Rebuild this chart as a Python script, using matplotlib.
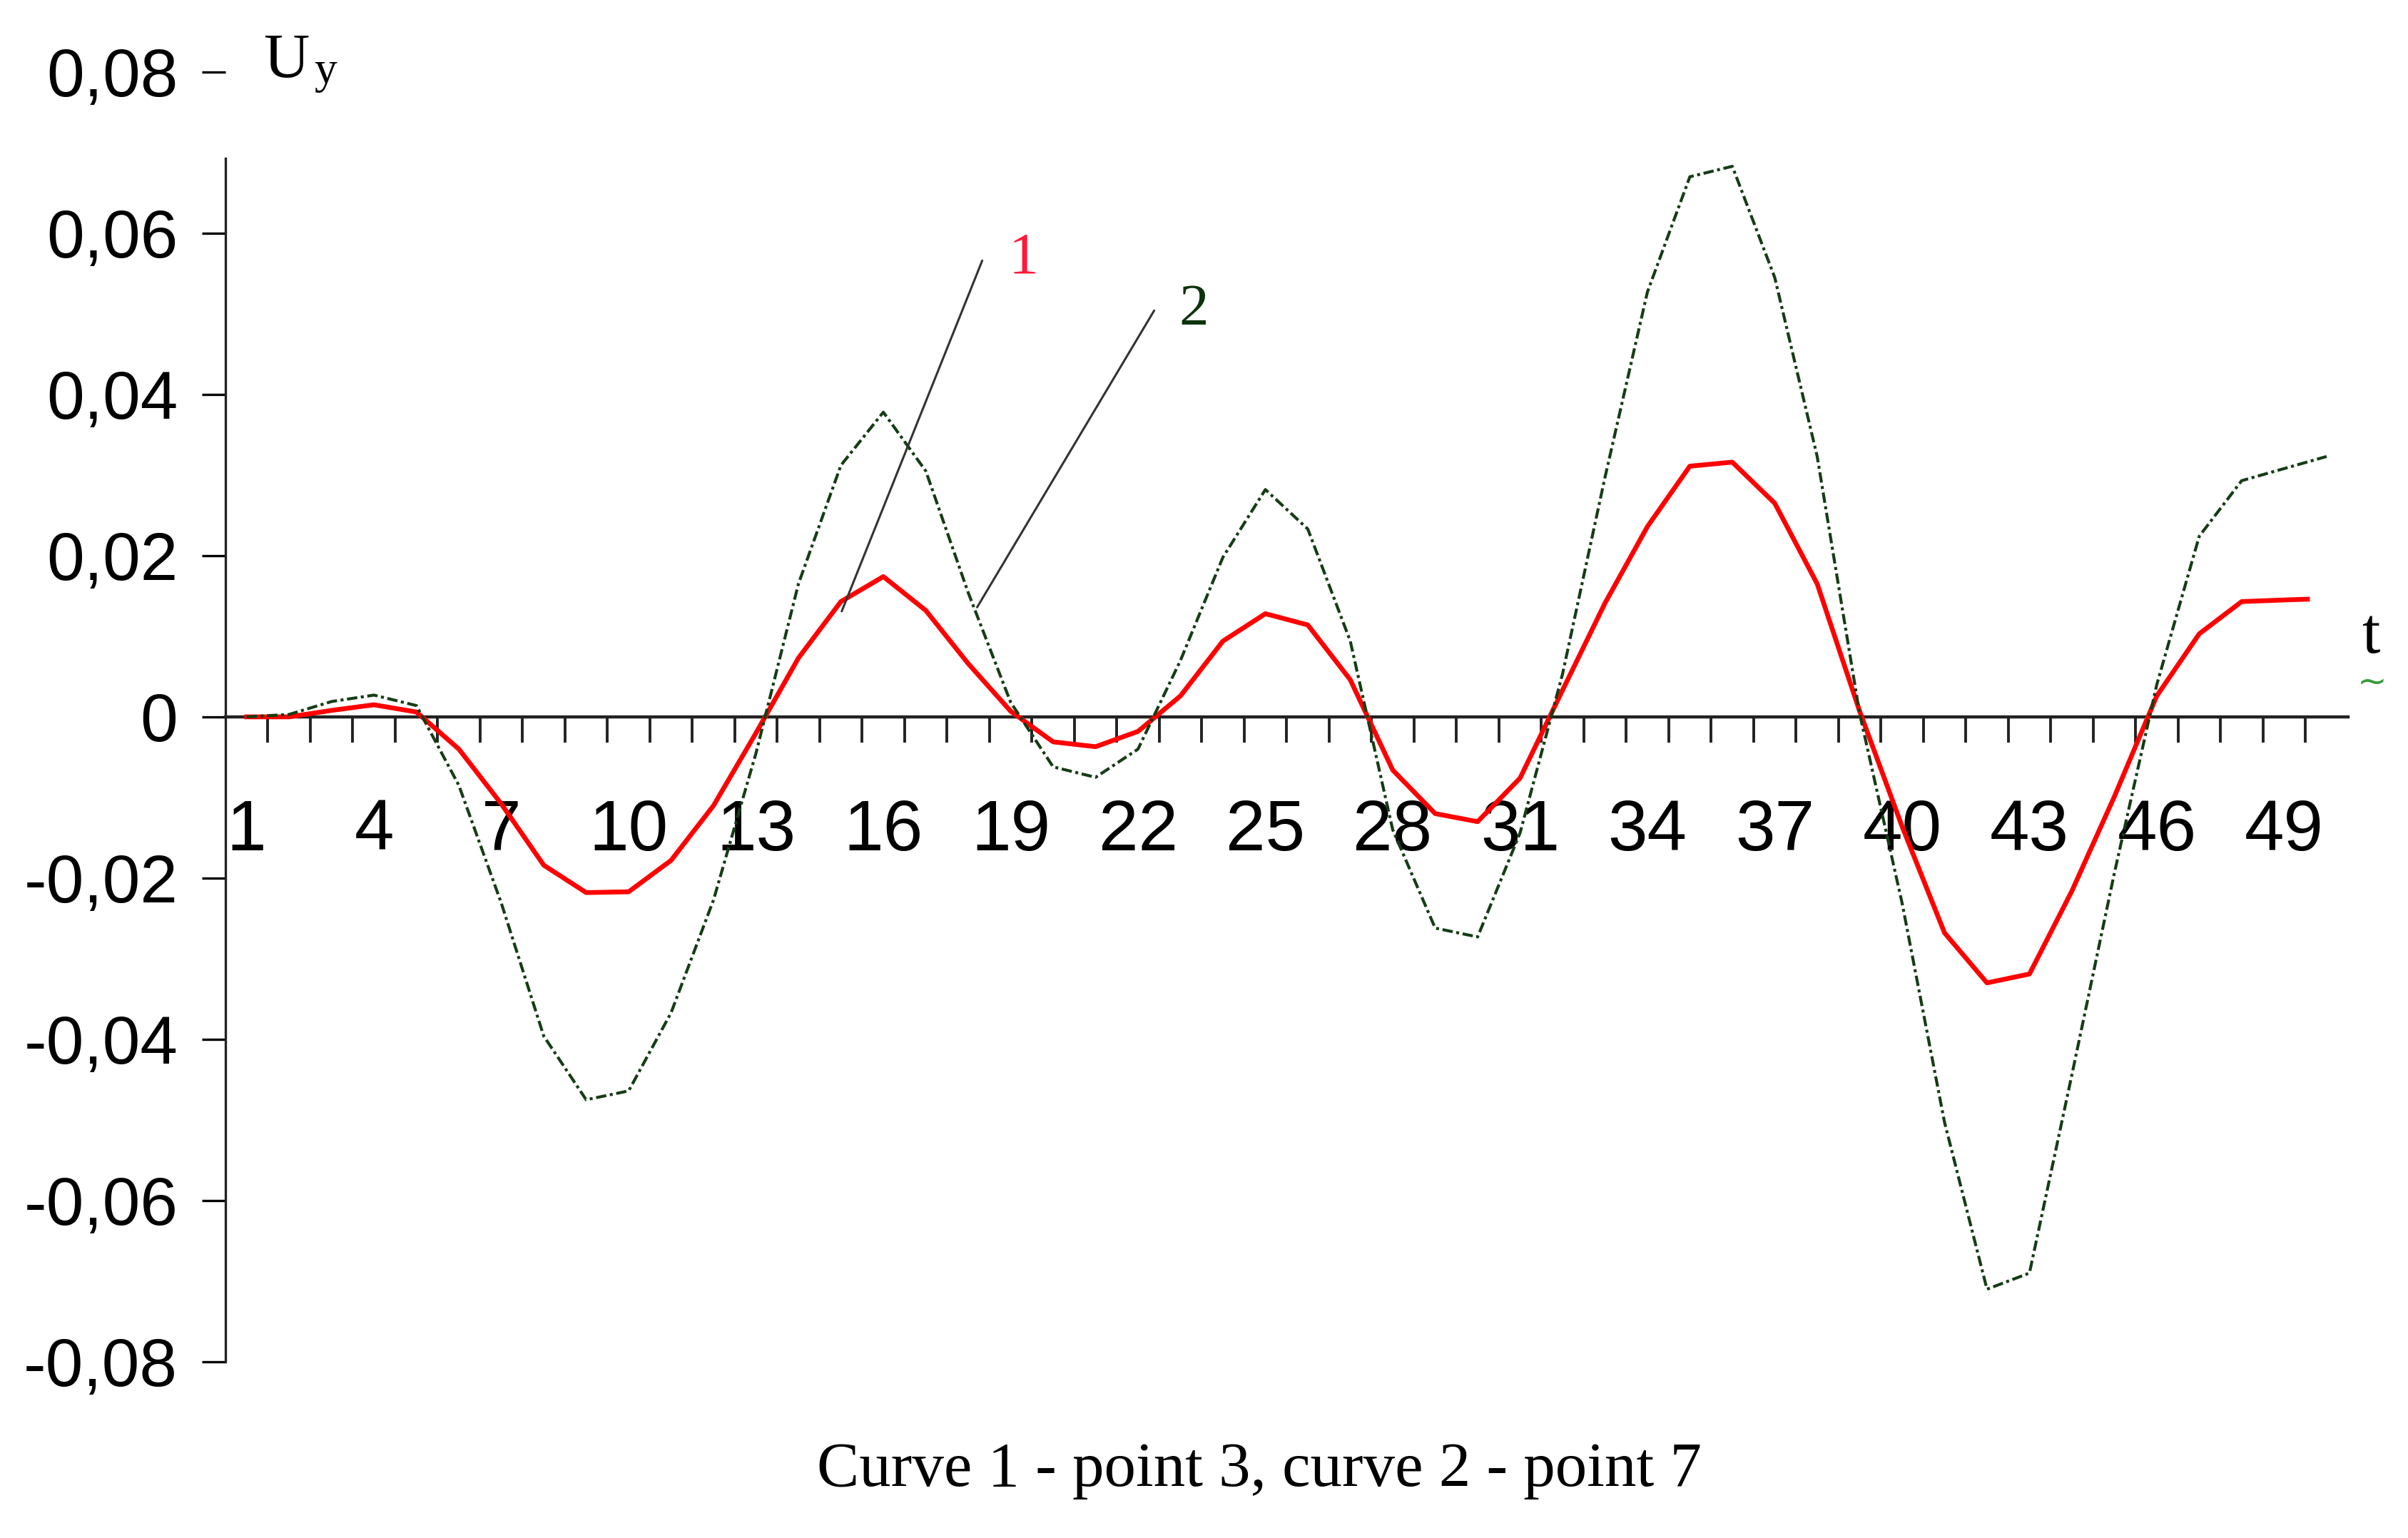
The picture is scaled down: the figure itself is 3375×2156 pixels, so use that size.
import numpy as np
import matplotlib
matplotlib.use("Agg")
import matplotlib.pyplot as plt

# ---------------- data ----------------
t_cat = list(range(1, 51))
x_tick_labels = [str(k) for k in range(1, 50, 3)]
x_label_pos = list(range(1, 50, 3))

curve1_t = list(range(1, 50)) + [49.55]
curve1 = [0.0, 0.0, 0.0008, 0.0015, 0.0006, -0.0040, -0.0108, -0.0184, -0.0218, -0.0217,
          -0.0178, -0.0110, -0.0020, 0.0073, 0.0143, 0.0174, 0.0132, 0.0066, 0.0007, -0.0031,
          -0.0037, -0.0018, 0.0026, 0.0094, 0.0128, 0.0114, 0.0046, -0.0066, -0.0120, -0.0130,
          -0.0076, 0.0033, 0.0141, 0.0236, 0.0311, 0.0316, 0.0265, 0.0165, 0.0007, -0.0136,
          -0.0268, -0.0330, -0.0319, -0.0216, -0.0099, 0.0026, 0.0103, 0.0143, 0.0145, 0.0146]

curve2_t = t_cat
curve2 = [0.0, 0.0003, 0.0019, 0.0027, 0.0014, -0.0085, -0.0231, -0.0396, -0.0475, -0.0464,
          -0.0367, -0.0227, -0.0045, 0.0165, 0.0312, 0.0378, 0.0305, 0.0154, 0.0018, -0.0062,
          -0.0075, -0.0040, 0.0070, 0.0198, 0.0282, 0.0233, 0.0094, -0.0140, -0.0262, -0.0273,
          -0.0144, 0.0053, 0.0297, 0.0527, 0.0670, 0.0683, 0.0545, 0.0323, 0.0004, -0.0231,
          -0.0503, -0.0710, -0.0690, -0.0444, -0.0194, 0.0040, 0.0224, 0.0293, 0.0308, 0.0323]

y_ticks = [-0.08, -0.06, -0.04, -0.02, 0.0, 0.02, 0.04, 0.06, 0.08]
y_tick_labels = ["-0,08", "-0,06", "-0,04", "-0,02", "0", "0,02", "0,04", "0,06", "0,08"]

# leader lines (start on curve, end near label) and label positions, in data units
label1_text, label1_pos = "1", (19.31, 0.0568)
leader1 = [(15.02, 0.0131), (18.33, 0.0566)]
label2_text, label2_pos = "2", (23.32, 0.0504)
leader2 = [(18.21, 0.0136), (22.38, 0.0504)]

caption = "Curve 1 - point 3, curve 2 - point 7"

# ---------------- styling ----------------
RED = "#ff0000"
GREEN = "#153d15"
SANS = ["Liberation Sans", "DejaVu Sans"]
NARROW = ["Liberation Sans Narrow", "Liberation Sans", "DejaVu Sans"]
SERIF = ["Liberation Serif", "DejaVu Serif"]

fig = plt.figure(figsize=(16.875, 10.78), dpi=200)
fig.patch.set_facecolor("white")
ax = fig.add_axes([0.0936, 0.1146, 0.975 - 0.0936, 0.9532 - 0.1146])
ax.set_xlim(0.5, 50.5)
ax.set_ylim(-0.08, 0.08)

for s in ("top", "right"):
    ax.spines[s].set_visible(False)
ax.spines["bottom"].set_position(("data", 0))
ax.spines["bottom"].set_bounds(0.5, 50.5)
ax.spines["left"].set_bounds(-0.08, 0.0693)
ax.spines["bottom"].set_linewidth(1.6)
ax.spines["left"].set_linewidth(1.2)
ax.spines["left"].set_color("#222222")
ax.spines["bottom"].set_color("#222222")

# y axis
ax.set_yticks(y_ticks)
ax.set_yticklabels(y_tick_labels)
ax.tick_params(axis="y", direction="out", length=12, width=1.2, pad=12,
               labelsize=34, colors="black")
for lab in ax.get_yticklabels():
    lab.set_family(SANS)

# x axis: tick marks between categories, labels at every third category
ax.set_xticks(np.array(t_cat[:-1]) + 0.5)
ax.set_xticks(x_label_pos, minor=True)
ax.set_xticklabels(x_tick_labels, minor=True)
ax.tick_params(axis="x", which="major", direction="out", length=13, width=1.4,
               labelbottom=False, color="#222222")
ax.tick_params(axis="x", which="minor", length=0, pad=41, labelsize=36)
for lab in ax.get_xticklabels(minor=True):
    lab.set_family(NARROW)

# curves
ax.plot(curve1_t, curve1, color=RED, lw=2.4, zorder=4, solid_joinstyle="round")
ax.plot(curve2_t, curve2, color=GREEN, lw=1.5, zorder=4,
        dashes=(3.5, 1.2, 1.0, 1.2))

# leader lines and labels
for (p0, p1) in (leader1, leader2):
    ax.annotate("", xy=p0, xytext=p1,
                arrowprops=dict(arrowstyle="-", color="#333333", lw=1.1,
                                shrinkA=0, shrinkB=0), zorder=5)
ax.text(*label1_pos, label1_text, color="#ff1a3a", fontsize=30, family=SERIF,
        ha="center", va="center", zorder=6)
ax.text(*label2_pos, label2_text, color="#0c330c", fontsize=30, family=SERIF,
        ha="center", va="center", zorder=6)

# axis names
fig.text(0.1093, 0.9499, "U", fontsize=32, family=SERIF, ha="left", va="baseline")
fig.text(0.1305, 0.9462, "y", fontsize=23, family=SERIF, ha="left", va="baseline")
fig.text(0.9846, 0.5756, "t", fontsize=33, family=SERIF, ha="center", va="baseline")
fig.text(0.9852, 0.556, "~", fontsize=18, color="#3a9a3a", ha="center", va="center")

# caption
fig.text(0.523, 0.0436, caption, fontsize=32, family=SERIF, ha="center", va="center")

fig.savefig("out.png", dpi=200, facecolor="white")
